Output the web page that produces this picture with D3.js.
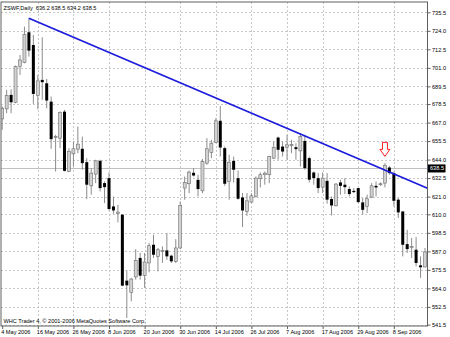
<!DOCTYPE html>
<html><head><meta charset="utf-8">
<script src="https://cdn.jsdelivr.net/npm/d3@7"></script>
<style>
html,body{margin:0;padding:0;background:#fff;}
svg{display:block;font-family:"Liberation Sans",Arial,sans-serif;}
</style></head>
<body>
<svg id="c" width="450" height="337"></svg>
<script>
// ---- data (daily OHLC, bar index 0 = 4 May 2006) ----
const symbolTitle = "ZSWF,Daily";
const headerValues = ["636.2", "638.5", "634.2", "638.5"];
const openP = [669.3,675.5,684.2,679.6,701.8,704.3,723.1,715.2,683.8,693.5,
 691.4,680.0,657.7,657.3,673.8,636.6,647.6,650.5,650.7,642.4,
 627.7,635.0,643.2,629.4,632.5,614.9,610.6,609.8,568.8,561.6,
 571.1,582.9,571.9,579.8,591.1,583.9,587.0,587.6,584.3,580.8,
 589.1,626.3,629.0,635.8,631.4,624.6,641.8,648.4,654.6,668.1,
 651.1,630.4,643.2,632.5,620.5,611.8,617.6,621.1,632.1,634.6,
 634.6,644.9,657.7,652.1,651.7,652.6,651.7,649.4,655.6,644.9,
 636.0,632.5,626.9,630.8,619.5,615.3,629.8,628.4,625.7,624.6,
 626.3,617.4,614.9,620.7,627.7,628.4,629.4,639.1,635.6,619.1,
 611.8,591.5,589.5,588.0,578.3,577.3];
const highP = [677.0,687.3,687.7,702.4,709.0,726.6,731.8,721.4,696.6,720.0,
 694.1,683.2,659.4,673.8,674.9,651.1,655.2,664.5,658.3,644.9,
 638.7,643.9,643.9,630.4,636.0,621.1,615.9,610.2,575.2,570.5,
 588.4,586.0,586.0,592.2,597.3,589.1,590.1,598.4,584.9,594.6,
 618.0,633.5,637.2,638.7,634.6,644.3,657.3,656.3,669.7,677.4,
 652.1,647.0,645.9,637.2,623.2,623.2,623.2,633.5,636.0,636.6,
 646.4,655.2,658.3,655.2,659.4,656.3,654.2,660.4,659.4,645.9,
 636.6,635.6,636.0,635.6,621.1,629.4,631.5,632.5,627.3,626.3,
 626.3,620.1,622.2,629.4,630.4,629.8,641.8,640.1,636.6,620.1,
 611.8,600.4,595.3,595.9,583.9,589.1];
const lowP = [662.5,672.8,672.8,679.0,696.6,703.8,708.0,678.6,675.3,681.1,
 675.9,650.7,636.6,651.1,636.6,636.2,639.7,648.0,637.7,619.5,
 622.2,629.4,624.2,617.0,612.4,610.4,605.0,565.3,545.6,556.0,
 569.4,569.4,564.3,574.0,582.9,574.6,579.8,581.8,579.8,579.8,
 588.4,619.1,623.2,633.5,621.1,623.2,640.8,644.9,654.2,645.9,
 627.7,619.1,629.8,619.1,602.1,609.1,617.0,620.5,626.7,628.4,
 629.4,644.3,643.9,645.9,643.9,648.0,643.9,639.7,637.7,629.8,
 628.4,623.2,623.2,616.6,609.3,614.9,622.2,622.6,621.1,623.2,
 617.0,609.8,610.8,620.1,621.1,627.7,626.7,634.6,614.9,607.7,
 583.9,586.0,582.9,577.7,570.5,577.1];
const closeP = [675.9,683.8,679.6,701.8,705.9,721.8,711.7,684.8,692.9,692.1,
 680.7,656.7,658.3,673.4,637.0,649.0,650.7,653.6,641.8,628.4,
 635.6,643.2,626.3,626.9,613.3,612.4,611.4,565.7,565.9,569.8,
 581.4,571.9,580.4,590.5,584.9,588.0,587.6,583.9,580.8,589.1,
 615.5,629.8,636.2,634.1,625.7,642.8,650.7,654.2,668.1,651.5,
 629.0,642.4,637.7,619.7,612.4,618.4,621.5,632.5,634.6,635.6,
 645.9,651.5,650.1,649.0,653.2,653.4,650.5,658.3,638.7,631.5,
 632.5,626.3,632.5,619.1,615.5,628.8,627.7,626.9,622.6,623.8,
 617.6,612.8,619.7,627.7,626.7,629.0,640.4,635.6,618.4,611.2,
 591.1,588.4,590.1,579.8,577.1,586.6];
const priceTicks = [735.5,724.0,712.5,701.0,689.5,678.5,667.0,655.5,644.0,632.5,621.0,610.0,598.5,587.0,575.5,564.0,552.5,541.5];
const dateLabels = ["4 May 2006","16 May 2006","26 May 2006","8 Jun 2006","20 Jun 2006","30 Jun 2006",
 "14 Jul 2006","26 Jul 2006","7 Aug 2006","17 Aug 2006","29 Aug 2006","8 Sep 2006"];
const dateLabelBars = [0,8,16,24,32,40,48,56,64,72,80,88];
const trendBars = [6, 86];
const trendPrices = [731.8, 637.5];
const bidPrice = 638.5;
const arrowBar = 86;
const arrowPrice = 646.0;
const copyright = "WHC Trader 4, \u00A9 2001-2006 MetaQuotes Software Corp.";

// ---- layout ----
const L = 1, R = 427.5, T = 2, B = 326;
const svg = d3.select("#c");
const x = d3.scaleLinear().domain([0, 95]).range([2.2, 425]);
const y = d3.scaleLinear().domain([541.5, 735.5]).range([324.6, 12.3]);
const bars = openP.map((o, i) => ({i, o, h: highP[i], l: lowP[i], c: closeP[i]}));

svg.append("defs").append("clipPath").attr("id", "plot")
  .append("rect").attr("x", L).attr("y", T).attr("width", R - L).attr("height", B - T);

// grid
const grid = svg.append("g").attr("stroke", "#c8c8c8").attr("stroke-width", 1).attr("stroke-dasharray", "2,2");
grid.selectAll("line.h").data(priceTicks).join("line").attr("class", "h")
  .attr("x1", L).attr("x2", R)
  .attr("y1", d => Math.round(y(d)) + 0.5).attr("y2", d => Math.round(y(d)) + 0.5);
grid.selectAll("line.v").data(dateLabelBars.slice(1)).join("line").attr("class", "v")
  .attr("x1", d => Math.round(x(d)) + 0.5).attr("x2", d => Math.round(x(d)) + 0.5)
  .attr("y1", T).attr("y2", B);

const plot = svg.append("g").attr("clip-path", "url(#plot)");

// bid line
plot.append("line").attr("x1", L).attr("x2", R)
  .attr("y1", Math.round(y(bidPrice)) + 0.5).attr("y2", Math.round(y(bidPrice)) + 0.5)
  .attr("stroke", "#c0c0c0").attr("stroke-width", 1);

// wicks
plot.append("g").selectAll("line").data(bars).join("line")
  .attr("x1", d => x(d.i)).attr("x2", d => x(d.i))
  .attr("y1", d => y(d.h)).attr("y2", d => y(d.l))
  .attr("stroke", "#8c8c8c").attr("stroke-width", 1);

// bodies
const bw = 3;
plot.append("g").selectAll("rect").data(bars).join("rect")
  .attr("x", d => x(d.i) - bw / 2)
  .attr("y", d => y(Math.max(d.o, d.c)))
  .attr("width", bw)
  .attr("height", d => Math.max(1, Math.abs(y(d.o) - y(d.c))))
  .attr("fill", d => d.c >= d.o ? "#d2d2d2" : "#000")
  .attr("stroke", d => d.c >= d.o ? "#6e6e6e" : "none")
  .attr("stroke-width", 0.6);

// trend line (ray to the right edge)
const slope = (trendPrices[1] - trendPrices[0]) / (trendBars[1] - trendBars[0]);
const endBar = x.invert(R);
plot.append("line")
  .attr("x1", x(trendBars[0])).attr("y1", y(trendPrices[0]))
  .attr("x2", x(endBar)).attr("y2", y(trendPrices[0] + slope * (endBar - trendBars[0])))
  .attr("stroke", "#1c1cdc").attr("stroke-width", 1.8);

// arrow
const ax = x(arrowBar), ay = y(arrowPrice);
plot.append("path")
  .attr("d", `M${ax-2.5},${ay-14} L${ax+2.5},${ay-14} L${ax+2.5},${ay-7} L${ax+5},${ay-7} L${ax},${ay} L${ax-5},${ay-7} L${ax-2.5},${ay-7} Z`)
  .attr("fill", "#fff").attr("stroke", "#ff2020").attr("stroke-width", 1);

// frame
svg.append("rect").attr("x", L).attr("y", T).attr("width", R - L).attr("height", B - T)
  .attr("fill", "none").attr("stroke", "#606060").attr("stroke-width", 1);

// right price axis
const yAxis = svg.append("g").attr("transform", `translate(${R},0)`)
  .call(d3.axisRight(y).tickValues(priceTicks).tickFormat(d3.format(".1f")).tickSize(3).tickPadding(1.5));
yAxis.select(".domain").remove();
yAxis.selectAll("line").attr("stroke", "#606060");
yAxis.selectAll("text").attr("font-size", "5.6px").attr("fill", "#000").attr("font-family", "Liberation Sans, Arial, sans-serif");

// bottom date axis
const xAxis = svg.append("g").attr("transform", `translate(0,${B})`)
  .call(d3.axisBottom(x).tickValues(dateLabelBars).tickFormat((d, i) => dateLabels[i]).tickSize(3).tickPadding(1));
xAxis.select(".domain").remove();
xAxis.selectAll("line").attr("stroke", "#606060");
xAxis.selectAll("text").attr("text-anchor", "start").attr("dx", "-1.5")
  .attr("font-size", "5.6px").attr("fill", "#000").attr("font-family", "Liberation Sans, Arial, sans-serif");

// bid label
const by = y(bidPrice);
svg.append("rect").attr("x", R + 0.5).attr("y", by - 4).attr("width", 17.5).attr("height", 8).attr("fill", "#000");
svg.append("text").attr("x", R + 2.5).attr("y", by + 2).attr("font-size", "5.6px").attr("fill", "#fff").text(bidPrice.toFixed(1));

// header
svg.append("text").attr("x", 3.5).attr("y", 9.5).attr("font-size", "5.6px").attr("fill", "#000")
  .style("white-space", "pre").text(symbolTitle + "  " + headerValues.join(" "));

// copyright
svg.append("text").attr("x", 3.5).attr("y", 323).attr("font-size", "5.6px").attr("fill", "#000").text(copyright);
</script>
</body></html>
